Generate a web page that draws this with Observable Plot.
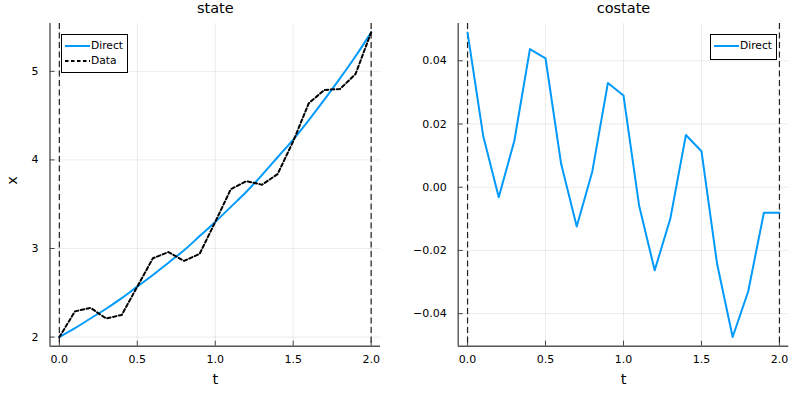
<!DOCTYPE html>
<html>
<head>
<meta charset="utf-8">
<script src="https://cdn.jsdelivr.net/npm/d3@7"></script>
<script src="https://cdn.jsdelivr.net/npm/@observablehq/plot@0.6"></script>
<style>
  body { margin: 0; background: #fff; font-family: "DejaVu Sans", sans-serif; }
  #wrap { position: relative; width: 800px; height: 400px; display: flex; }
  .legend { position: absolute; background: #fff; border: 1px solid #000; box-sizing: border-box;
            font: 10.7px "DejaVu Sans", sans-serif; color: #000; }
  .legend .row { position: absolute; left: 2px; height: 14px; display: flex; align-items: center; }
  .legend svg { margin-right: 1px; }
</style>
</head>
<body>
<div id="wrap"></div>
<script>
// ---- data ----
const t = [0.0, 0.1, 0.2, 0.3, 0.4, 0.5, 0.6, 0.7, 0.8, 0.9, 1.0, 1.1, 1.2, 1.3, 1.4, 1.5, 1.6, 1.7, 1.8, 1.9, 2.0];
const stateDirect = [2.00, 2.10, 2.21, 2.32, 2.44, 2.57, 2.70, 2.84, 2.98, 3.14, 3.30, 3.47, 3.64, 3.83, 4.03, 4.23, 4.45, 4.68, 4.92, 5.17, 5.44];
const stateData = [2.00, 2.29, 2.33, 2.21, 2.25, 2.57, 2.89, 2.96, 2.86, 2.94, 3.30, 3.67, 3.76, 3.72, 3.84, 4.21, 4.64, 4.79, 4.80, 4.97, 5.44];
const costateDirect = [0.0489, 0.0163, -0.0032, 0.0147, 0.0437, 0.0408, 0.0074, -0.0124, 0.0050, 0.0330, 0.0290,
  -0.0058, -0.0263, -0.0100, 0.0165, 0.0114, -0.0242, -0.0474, -0.0329, -0.0081, -0.0081];
const vlines = [0, 2];
const xTicks = [0, 0.5, 1, 1.5, 2];
const stateTicks = [2, 3, 4, 5];
const costateTicks = [-0.04, -0.02, 0.00, 0.02, 0.04];

const blue = "#009AFA";
const font = "DejaVu Sans, sans-serif";

function panel({title, ylabel, xDomain, yDomain, yTicks, yFmt, marginLeft, marginRight, series}) {
  const mt = 23, mb = 54.3, W = 400, H = 400;
  const innerH = H - mt - mb, innerW = W - marginLeft - marginRight;
  const marks = [
    Plot.gridX(xTicks, {stroke: "#000", strokeOpacity: 0.08, strokeWidth: 1}),
    Plot.gridY(yTicks, {stroke: "#000", strokeOpacity: 0.08, strokeWidth: 1}),
    Plot.axisX(xTicks, {tickSize: 0, tickPadding: 9, tickFormat: d3.format(".1f"), label: null, fontSize: 11, fill: "#000"}),
    Plot.axisY(yTicks, {tickSize: 0, tickPadding: 11.5, tickFormat: yFmt, label: null, fontSize: 11, fill: "#000"}),
    Plot.tickX(xTicks, {x: d => d, insetTop: innerH - 5, stroke: "#444", strokeWidth: 1}),
    Plot.tickY(yTicks, {y: d => d, insetRight: innerW - 5, stroke: "#444", strokeWidth: 1}),
    Plot.ruleX([xDomain[0]], {stroke: "#555", strokeWidth: 1.4}),
    Plot.ruleY([yDomain[0]], {stroke: "#555", strokeWidth: 1.4}),
    Plot.ruleX(vlines, {stroke: "#222", strokeWidth: 1.2, strokeDasharray: "6,3.5"}),
    ...series,
    Plot.text([title], {frameAnchor: "top", dy: -14.7, lineAnchor: "middle", fontSize: 14.5, fill: "#000"}),
    Plot.text(["t"], {frameAnchor: "bottom", dy: 33.3, lineAnchor: "middle", fontSize: 14.5, fill: "#000"})
  ];
  if (ylabel) marks.push(Plot.text([ylabel], {frameAnchor: "left", dx: 12 - marginLeft, rotate: -90, lineAnchor: "middle", fontSize: 14.5, fill: "#000"}));
  return Plot.plot({
    width: W, height: H, marginTop: mt, marginBottom: mb, marginLeft, marginRight,
    style: {fontFamily: font, background: "#fff", overflow: "visible"},
    x: {domain: xDomain},
    y: {domain: yDomain},
    marks
  });
}

const left = panel({
  title: "state", ylabel: "x",
  xDomain: [-0.06, 2.06], yDomain: [1.897, 5.54],
  yTicks: stateTicks, yFmt: d3.format("d"),
  marginLeft: 49.5, marginRight: 20,
  series: [
    Plot.line(t, {x: d => d, y: (d, i) => stateDirect[i], stroke: blue, strokeWidth: 2, curve: "catmull-rom"}),
    Plot.line(t, {x: d => d, y: (d, i) => stateData[i], stroke: "#000", strokeWidth: 2, strokeDasharray: "3.5,2.5"})
  ]
});
const right = panel({
  title: "costate", ylabel: null,
  xDomain: [-0.06, 2.06], yDomain: [-0.0503, 0.0518],
  yTicks: costateTicks, yFmt: d3.format(".2f"),
  marginLeft: 57.7, marginRight: 11.7,
  series: [
    Plot.line(t, {x: d => d, y: (d, i) => costateDirect[i], stroke: blue, strokeWidth: 2})
  ]
});

const wrap = document.getElementById("wrap");
wrap.appendChild(left);
wrap.appendChild(right);

function legend(x, y, w, h, items) {
  const div = document.createElement("div");
  div.className = "legend";
  Object.assign(div.style, {left: x + "px", top: y + "px", width: w + "px", height: h + "px"});
  items.forEach((it, i) => {
    const row = document.createElement("div");
    row.className = "row";
    row.style.top = (5.4 + i * 15 - 2) + "px";
    row.innerHTML = `<svg width="26" height="14"><line x1="1" x2="26" y1="7" y2="7" stroke="${it.color}" stroke-width="2" ${it.dash ? `stroke-dasharray="${it.dash}"` : ""}/></svg><span>${it.label}</span>`;
    div.appendChild(row);
  });
  wrap.appendChild(div);
}
legend(61, 34.3, 66.7, 38.4, [{label: "Direct", color: blue}, {label: "Data", color: "#000", dash: "3.5,2.5"}]);
legend(710, 34.3, 67.3, 26, [{label: "Direct", color: blue}]);
</script>
</body>
</html>
